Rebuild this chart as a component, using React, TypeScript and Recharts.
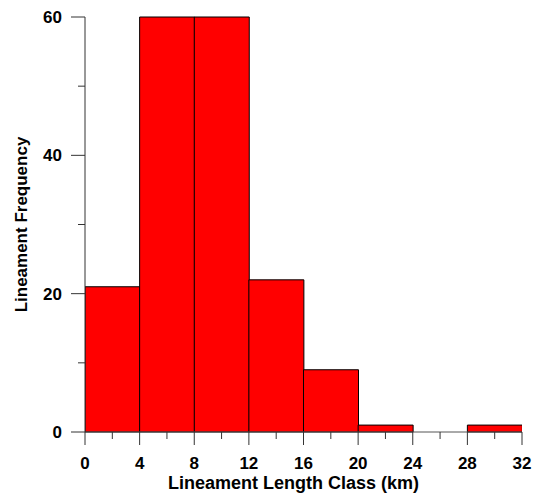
import React from 'react';
import { BarChart, Bar, XAxis, YAxis } from 'recharts';

// Lineament length classes (km): class midpoints and their counts
const classMidpoints = [2, 6, 10, 14, 18, 22, 26, 30];
const frequencies = [21, 60, 60, 22, 9, 1, 0, 1];

// Axis ticks: labelled majors plus unlabelled minors
const xTicks = [0, 2, 4, 6, 8, 10, 12, 14, 16, 18, 20, 22, 24, 26, 28, 30, 32];
const xLabelled = [0, 4, 8, 12, 16, 20, 24, 28, 32];
const yTicks = [0, 10, 20, 30, 40, 50, 60];
const yLabelled = [0, 20, 40, 60];

const data = classMidpoints.map((mid, i) => ({ mid, freq: frequencies[i] }));

const FONT = '"Liberation Sans", Arial, Helvetica, sans-serif';
const AXIS_COLOR = '#333';

const XTick = (props: any) => {
  const { x, y, payload } = props;
  const major = xLabelled.includes(payload.value);
  return (
    <g>
      <line x1={x} y1={y} x2={x} y2={y + (major ? 13 : 7)} stroke={AXIS_COLOR} strokeWidth={1} />
      {major && (
        <text x={x} y={y + 37} textAnchor="middle" fontFamily={FONT} fontWeight="bold" fontSize={17} fill="#000">
          {payload.value}
        </text>
      )}
    </g>
  );
};

const YTick = (props: any) => {
  const { x, y, payload } = props;
  const major = yLabelled.includes(payload.value);
  return (
    <g>
      <line x1={x - (major ? 14 : 7)} y1={y} x2={x} y2={y} stroke={AXIS_COLOR} strokeWidth={1} />
      {major && (
        <text x={x - 23} y={y + 6} textAnchor="end" fontFamily={FONT} fontWeight="bold" fontSize={17} fill="#000">
          {payload.value}
        </text>
      )}
    </g>
  );
};

const XTitle = (props: any) => {
  const { viewBox } = props;
  return (
    <text
      x={viewBox.x + viewBox.width / 2 - 10}
      y={viewBox.y + 57}
      textAnchor="middle"
      fontFamily={FONT}
      fontWeight="bold"
      fontSize={18}
      fill="#000"
    >
      Lineament Length Class (km)
    </text>
  );
};

const YTitle = (props: any) => {
  const { viewBox } = props;
  const cx = viewBox.x + 27;
  const cy = viewBox.y + viewBox.height / 2;
  return (
    <text
      x={cx}
      y={cy}
      transform={`rotate(-90 ${cx} ${cy})`}
      textAnchor="middle"
      fontFamily={FONT}
      fontWeight="bold"
      fontSize={17}
      fill="#000"
    >
      Lineament Frequency
    </text>
  );
};

export default function App() {
  return (
    <div style={{ position: 'absolute', left: 0, top: 0, background: '#fff' }}>
      <BarChart
        width={541}
        height={498}
        data={data}
        margin={{ top: 17, right: 19, bottom: 0, left: 0 }}
        barCategoryGap={0}
        barGap={0}
      >
        <XAxis
          dataKey="mid"
          type="number"
          domain={[0, 32]}
          ticks={xTicks}
          interval={0}
          height={66}
          axisLine={{ stroke: '#555', strokeWidth: 1 }}
          tickLine={false}
          tickSize={0}
          tickMargin={0}
          tick={<XTick />}
          label={<XTitle />}
          allowDataOverflow
        />
        <YAxis
          type="number"
          domain={[0, 60]}
          ticks={yTicks}
          interval={0}
          width={85}
          axisLine={{ stroke: AXIS_COLOR, strokeWidth: 1 }}
          tickLine={false}
          tickSize={0}
          tickMargin={0}
          tick={<YTick />}
          label={<YTitle />}
        />
        <Bar
          dataKey="freq"
          fill="#ff0000"
          stroke="#000"
          strokeWidth={1}
          isAnimationActive={false}
        />
      </BarChart>
    </div>
  );
}
